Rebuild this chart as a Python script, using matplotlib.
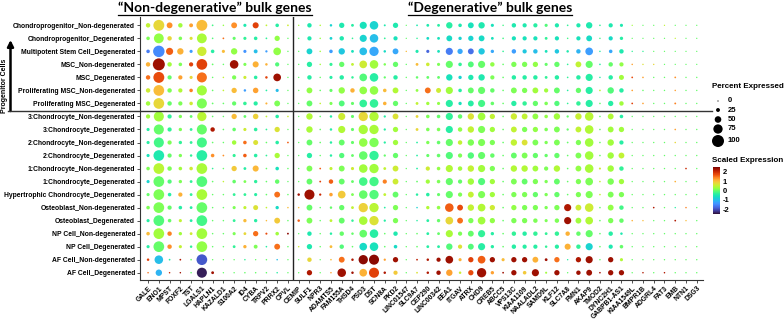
import numpy as np
import matplotlib
matplotlib.use("Agg")
import matplotlib.pyplot as plt
from matplotlib.lines import Line2D
from matplotlib.colors import ListedColormap

plt.rcParams['font.family'] = ['Liberation Sans', 'DejaVu Sans']
plt.rcParams['axes.unicode_minus'] = False

cell_types = [
    "Chondroprogenitor_Non-degenerated", "Chondroprogenitor_Degenerated",
    "Multipotent Stem Cell_Degenerated", "MSC_Non-degenerated", "MSC_Degenerated",
    "Proliferating MSC_Non-degenerated", "Proliferating MSC_Degenerated",
    "3:Chondrocyte_Non-degenerated", "3:Chondrocyte_Degenerated",
    "2:Chondrocyte_Non-degenerated", "2:Chondrocyte_Degenerated",
    "1:Chondrocyte_Non-degenerated", "1:Chondrocyte_Degenerated",
    "Hypertrophic Chondrocyte_Degenerated", "Osteoblast_Non-degenerated",
    "Osteoblast_Degenerated", "NP Cell_Non-degenerated", "NP Cell_Degenerated",
    "AF Cell_Non-degenerated", "AF Cell_Degenerated",
]

genes_nondeg = ["GALE", "ENO1", "MPST", "FOXF2", "TST", "LGALS1", "HAPLN1", "KAZALD1",
                "S100A2", "ID4", "CYBA", "TRPV2", "PRRX2", "CPVL"]
genes_deg = ["CEMIP", "SULF1", "NPR3", "ADAMTS5", "FAM155A", "THSD4", "PSD3", "DST",
             "SCN8A", "PKD2", "LINC01547", "SLC9A7", "CEP290", "LINC00342", "EEA1",
             "ITGAV", "ATRX", "CHD9", "CREB5", "ABCC5", "VPS13C", "KIAA1109",
             "NAALADL2", "SAMD9L", "KLF12", "SLC7A8", "FMN1", "AKAP9", "TMOD2",
             "DYNC2H1", "GABPB1-AS1", "KIAA1549L", "BMPR1B", "ADGRL4", "FAT3", "EMB",
             "NTN1", "DSG3"]

# percent expressed, "non-degenerative" genes
pct_nondeg = [
    [30, 90, 43, 30, 25, 90, 5, 3, 43, 18, 45, 5, 22, 5],
    [22, 80, 30, 22, 18, 80, 4, 5, 18, 18, 22, 5, 38, 2],
    [22, 95, 55, 48, 18, 75, 22, 18, 48, 18, 25, 10, 60, 2],
    [30, 100, 30, 22, 28, 88, 5, 3, 68, 18, 45, 12, 28, 2],
    [30, 90, 28, 28, 18, 82, 3, 3, 28, 18, 22, 12, 60, 2],
    [30, 88, 30, 28, 22, 82, 4, 4, 38, 12, 40, 5, 18, 2],
    [30, 88, 30, 28, 22, 82, 5, 4, 28, 22, 28, 8, 43, 2],
    [28, 82, 28, 20, 15, 75, 4, 3, 38, 15, 40, 5, 22, 4],
    [18, 82, 28, 20, 15, 82, 30, 4, 22, 18, 22, 5, 38, 2],
    [18, 82, 28, 20, 15, 82, 4, 3, 30, 22, 35, 4, 22, 5],
    [18, 88, 28, 20, 12, 88, 22, 5, 18, 22, 22, 5, 38, 2],
    [22, 88, 30, 22, 22, 88, 4, 3, 38, 15, 45, 4, 22, 3],
    [18, 88, 28, 20, 15, 88, 4, 3, 22, 15, 20, 4, 30, 2],
    [18, 88, 22, 28, 15, 88, 3, 3, 15, 15, 18, 4, 43, 3],
    [22, 88, 28, 22, 15, 88, 3, 3, 18, 18, 35, 4, 20, 3],
    [18, 88, 22, 18, 15, 88, 3, 3, 15, 20, 20, 3, 43, 3],
    [22, 88, 30, 20, 15, 88, 3, 3, 18, 15, 38, 8, 22, 6],
    [18, 88, 30, 18, 12, 88, 3, 3, 15, 20, 25, 4, 43, 3],
    [12, 68, 5, 5, 4, 88, 2, 2, 2, 3, 2, 3, 3, 2],
    [3, 48, 3, 3, 3, 82, 15, 2, 2, 3, 3, 3, 3, 2],
]

# scaled expression, "non-degenerative" genes
expr_nondeg = [
    [0.5, 0.8, 1.3, 0.3, 1.2, 1.0, -0.2, 0.2, 1.3, -0.5, 1.8, 0.5, -0.4, 0.6],
    [0.1, 0.2, 0.8, 0.1, 0.7, 0.35, -0.1, 1.5, 0.0, -0.3, -0.4, -0.3, 0.2, 0.0],
    [-1.6, -1.5, 1.6, 1.1, -1.3, 0.6, -0.4, 1.0, 0.2, -1.4, -1.0, -1.3, 0.2, 0.0],
    [1.1, 2.3, 0.3, 0.1, 1.8, 1.8, 0.0, 0.0, 2.3, 0.1, 1.1, 1.1, -0.1, 0.0],
    [1.5, 1.7, 0.0, 1.2, 0.8, 1.5, 0.0, 0.5, 0.1, 0.6, -0.4, 1.8, 2.3, 0.0],
    [0.6, 1.0, 0.1, 0.4, 1.4, 0.3, 0.0, 0.5, 1.0, -1.3, 1.2, -0.4, -1.0, 0.0],
    [0.3, 0.8, 0.0, 0.1, 0.6, 0.1, 0.0, 0.0, 0.0, -0.3, -0.4, 1.1, 0.1, 0.0],
    [0.3, 0.3, -0.3, 0.1, 0.0, 0.45, 0.0, 0.0, 1.0, 0.0, 0.85, 0.5, -0.4, 0.6],
    [-0.4, 0.0, -0.3, 0.1, -0.3, 0.0, 2.2, 0.0, 0.0, 0.6, -0.35, -0.3, 0.7, 0.0],
    [-0.4, -0.2, 0.1, -0.3, -0.3, -0.2, 0.0, 0.0, 0.3, 1.5, 0.7, 0.0, -0.4, 1.6],
    [-0.6, -0.5, 0.0, 0.1, -0.3, -0.4, 1.3, 1.3, -0.3, 1.6, -0.4, -0.3, 0.35, 0.0],
    [0.1, 0.45, 0.1, 0.3, 0.6, 0.35, -0.3, 0.0, 0.9, -0.4, 1.05, 0.0, -0.6, 0.0],
    [-0.8, 0.0, -0.1, 0.1, -0.3, -0.1, 0.0, 0.5, 0.0, 0.1, -0.35, 0.0, 0.0, 0.0],
    [0.0, 0.1, -0.4, 1.1, -0.3, 0.35, 0.0, 0.0, -0.3, -0.3, -0.4, 0.0, 1.5, 0.0],
    [0.1, 0.1, 0.0, -0.4, -0.4, 0.0, 0.0, 0.0, 0.1, 0.5, 0.7, 0.5, -0.7, 1.0],
    [-0.4, -0.1, 0.0, 0.5, -0.4, -0.2, 0.0, 0.0, -0.3, 1.0, -0.4, 1.0, 0.9, 0.0],
    [1.0, 0.3, 1.4, 0.3, 0.6, 0.3, 0.0, 0.0, 0.1, 0.8, 1.5, 1.7, 0.3, 2.4],
    [-0.4, 0.0, 1.3, 0.5, -0.3, 0.2, 0.0, 0.0, -0.3, 1.1, 0.1, -0.4, 1.5, 0.0],
    [1.8, -1.0, -0.4, 2.2, 0.0, -1.9, 0.0, 0.0, 0.0, -0.3, 0.0, 0.0, -1.0, 0.0],
    [1.5, -1.1, 2.0, 2.3, 0.0, -2.4, 2.3, 0.0, 0.0, 0.0, 0.0, 0.0, -0.4, 0.0],
]

# percent expressed, "degenerative" genes
pct_deg = [
    [2, 30, 3, 12, 38, 15, 55, 68, 7, 38, 1, 5, 15, 15, 48, 22, 43, 48, 18, 3, 30, 28, 28, 18, 28, 4, 28, 48, 4, 28, 18, 1, 1, 1, 1, 1, 1, 1],
    [2, 28, 3, 15, 30, 4, 55, 68, 5, 28, 1, 3, 15, 15, 43, 20, 38, 43, 15, 4, 28, 28, 28, 15, 28, 3, 28, 43, 3, 28, 20, 1, 1, 1, 1, 1, 1, 1],
    [2, 43, 3, 22, 48, 15, 60, 75, 12, 43, 2, 18, 18, 15, 55, 38, 43, 48, 20, 4, 30, 28, 30, 15, 30, 12, 30, 60, 3, 22, 30, 2, 2, 1, 1, 1, 1, 1],
    [2, 38, 3, 18, 38, 15, 60, 68, 12, 38, 2, 15, 22, 18, 55, 22, 43, 55, 30, 4, 38, 38, 38, 18, 38, 4, 43, 55, 4, 30, 28, 3, 2, 2, 1, 1, 1, 1],
    [2, 30, 3, 18, 30, 12, 60, 68, 10, 30, 2, 12, 15, 15, 48, 20, 38, 48, 28, 4, 30, 30, 30, 15, 30, 4, 30, 55, 3, 30, 35, 5, 4, 2, 2, 5, 2, 2],
    [2, 43, 4, 18, 48, 30, 60, 68, 22, 43, 2, 15, 43, 35, 55, 22, 43, 55, 30, 4, 43, 38, 43, 28, 43, 4, 38, 55, 5, 48, 30, 4, 3, 2, 2, 3, 2, 2],
    [2, 43, 4, 18, 43, 18, 60, 68, 22, 38, 2, 15, 20, 18, 55, 20, 43, 55, 22, 4, 38, 30, 38, 22, 38, 4, 30, 55, 4, 38, 30, 5, 4, 2, 2, 6, 2, 2],
    [2, 48, 4, 12, 55, 18, 75, 75, 10, 43, 2, 15, 22, 22, 55, 30, 48, 60, 38, 4, 48, 43, 43, 22, 48, 10, 48, 68, 4, 43, 22, 2, 2, 2, 2, 2, 2, 2],
    [2, 48, 4, 12, 55, 18, 75, 75, 10, 38, 2, 15, 22, 22, 55, 30, 48, 55, 38, 4, 43, 38, 38, 22, 43, 10, 43, 68, 4, 43, 38, 2, 2, 2, 2, 4, 2, 2],
    [2, 43, 4, 12, 43, 18, 68, 75, 10, 38, 2, 5, 20, 22, 55, 30, 48, 55, 38, 4, 48, 43, 43, 20, 43, 5, 38, 68, 4, 48, 28, 2, 2, 2, 2, 3, 2, 2],
    [2, 38, 3, 12, 38, 15, 68, 75, 10, 38, 2, 5, 18, 22, 55, 28, 48, 55, 30, 4, 43, 43, 38, 20, 38, 4, 43, 68, 4, 48, 43, 2, 2, 2, 2, 2, 2, 2],
    [2, 43, 5, 18, 43, 18, 68, 75, 15, 43, 2, 5, 28, 22, 55, 30, 48, 55, 38, 4, 48, 48, 43, 28, 48, 4, 43, 68, 8, 48, 30, 2, 2, 2, 2, 2, 4, 2],
    [2, 43, 6, 30, 43, 15, 68, 75, 28, 43, 2, 5, 28, 22, 55, 28, 48, 55, 38, 4, 43, 43, 38, 20, 43, 4, 38, 60, 4, 48, 38, 2, 2, 2, 2, 4, 2, 2],
    [12, 82, 10, 22, 60, 15, 68, 75, 15, 43, 2, 12, 22, 18, 55, 28, 43, 55, 38, 4, 38, 38, 38, 20, 38, 4, 38, 55, 4, 43, 38, 2, 2, 2, 2, 2, 2, 2],
    [3, 43, 3, 12, 38, 15, 75, 75, 5, 38, 2, 3, 20, 22, 68, 43, 48, 60, 38, 4, 38, 38, 38, 20, 38, 55, 43, 68, 4, 43, 30, 2, 2, 4, 2, 2, 3, 2],
    [12, 43, 3, 15, 43, 12, 68, 75, 10, 38, 2, 3, 15, 20, 60, 43, 38, 60, 38, 4, 38, 38, 30, 18, 30, 55, 43, 60, 4, 38, 30, 3, 2, 2, 2, 5, 2, 2],
    [2, 30, 3, 12, 30, 12, 60, 68, 4, 30, 2, 4, 15, 15, 55, 28, 43, 55, 20, 4, 30, 30, 30, 15, 30, 30, 30, 55, 4, 30, 12, 2, 2, 2, 2, 2, 2, 2],
    [3, 38, 3, 15, 30, 4, 60, 68, 4, 22, 2, 4, 15, 15, 48, 28, 43, 55, 20, 4, 30, 28, 28, 12, 28, 45, 30, 55, 4, 28, 22, 2, 2, 2, 2, 2, 2, 2],
    [2, 30, 2, 4, 43, 12, 75, 82, 10, 38, 2, 5, 12, 28, 60, 18, 38, 60, 38, 18, 38, 38, 43, 15, 38, 2, 38, 55, 3, 38, 18, 2, 2, 2, 2, 2, 2, 2],
    [2, 38, 2, 3, 68, 12, 60, 82, 12, 28, 2, 5, 12, 30, 48, 12, 38, 75, 20, 5, 38, 22, 55, 8, 38, 2, 30, 43, 4, 38, 38, 2, 3, 2, 3, 2, 2, 2],
]

# scaled expression, "degenerative" genes
expr_deg = [
    [0.3, -0.5, 0.4, -0.8, -0.5, -0.4, -0.6, -0.8, -0.5, -0.5, 0, -0.5, -0.5, -0.4, -0.4, -0.5, -0.6, -0.5, -0.6, -0.2, -0.5, -0.5, -0.4, -0.1, -0.5, -0.3, -0.5, -0.5, -0.3, -0.5, -0.5, 0.3, 0, 0, 0.5, 0, 0, 0],
    [0, -0.5, 0.2, -0.8, -0.5, -0.3, -0.8, -1.0, -0.3, -0.6, 0, -0.3, -0.7, -0.6, -0.7, -0.8, -0.8, -0.7, -0.6, -0.2, -0.6, -0.6, -0.6, -0.3, -0.6, -0.2, -0.6, -0.7, -0.2, -0.7, -0.4, 0, 0, 0, 0, 0.5, 0, 0],
    [0, -0.8, 0.3, -1.3, -0.9, -0.6, -1.0, -1.2, -0.7, -1.2, 1.0, -0.5, -1.8, -0.6, -1.6, -1.2, -1.7, -0.9, -1.2, -0.3, -1.3, -0.9, -1.0, -0.6, -0.9, -0.5, -1.1, -1.3, -0.4, -1.2, -0.5, -0.3, -0.3, 0, 0, 0, 0, 0],
    [0, -0.4, 0.3, -0.3, 0.0, 0.5, 0.6, 0.3, 0.1, 0.0, 0, 1.0, 0.6, 0.1, 0.0, -0.3, -0.1, 0.0, 0.2, 0.0, 0.1, 0.1, 0.2, 0.0, 0.0, -0.3, 0.5, 0.0, -0.4, 0.0, 0.2, 1.2, 0.7, 0.8, 0, 0, 0, 0],
    [0, -0.4, 0, -0.4, -0.4, -0.3, -0.1, -0.4, 0.0, -0.4, 0, 0.0, 0.0, 0.0, -0.6, -0.8, -0.5, -0.5, 0.1, 0.0, -0.4, -0.4, -0.4, -0.3, -0.4, -0.3, -0.4, -0.4, -0.4, -0.4, 0.3, 1.7, 1.2, 0, 0, 1.3, 0, 0],
    [0, 0.2, 0, 0.0, 0.2, 1.1, 0.2, 0.2, 1.0, 0.4, 0, 0.2, 1.5, 0.6, 0.3, -0.4, 0.0, 0.0, 0.0, 0.0, 0.1, 0.1, 0.3, 0.3, 0.0, -0.4, 0.0, -0.4, 0.5, -0.1, -0.4, 1.2, 0, 0, 0, 1.2, 0, 0],
    [0, 0.0, 0.5, 0.1, -0.1, 0.0, -0.3, -0.3, 1.1, 0.0, 0, 0.5, 0.3, 0.2, -0.4, -0.6, -0.4, -0.2, 0.0, 0.0, -0.4, -0.3, 0.0, 0.1, -0.1, -0.3, -0.3, -0.4, 0, -0.4, 0.3, 1.8, 1.2, 0, 0, 1.4, 0, 0],
    [0, 0.4, 0, -0.4, 0.6, 0.0, 0.8, 0.4, -0.4, 0.7, 0, 0.8, 0.1, 0.0, -0.3, 0.0, 0.7, 0.3, 0.5, 0.0, 0.6, 0.5, 0.2, 0.2, 0.3, 0.0, 0.55, 0.45, 0, 0.4, -0.4, 0, 0, 0, 0, 0, 0, 0],
    [0, 0.35, 0, -0.4, 0.4, 0.0, 0.35, 0.35, -0.4, 0.3, 0, 0.8, 0.1, 0.1, -0.4, 0.2, 0.5, 0.1, 0.3, 0.0, 0.5, 0.1, 0.2, 0.1, 0.1, 0.0, 0.5, 0.4, 0, 0.3, 0.3, 0, 0, 0, 0, 1.2, 0, 0],
    [0, 0.0, 0, -0.4, 0.0, 0.0, 0.2, 0.1, -0.4, 0.3, 0, -0.4, 0.1, 0.0, 0.0, 0.5, 0.1, 0.1, 0.1, 0.0, 0.5, 0.7, 0.1, 0.1, 0.1, 0.0, 0.1, 0.3, 0, 0.3, -0.4, 0, 0, 0, 0, 0.8, 0, 0],
    [0, -0.4, 0, -0.4, -0.1, 0.0, 0.0, -0.3, 0.0, 0.0, 0, -0.4, 0.0, 0.0, -0.1, 0.1, -0.1, 0.0, 0.0, 0.0, 0.0, 0.1, 0.0, 0.0, 0.0, 0.0, 0.1, 0.3, 0, 0.3, 0.5, 0, 0, 0, 0, 0, 0, 0],
    [0, 0.1, 1.6, 0.5, 0.1, 0.6, 0.3, 0.3, 0.5, 0.6, 0, -0.4, 0.6, 0.2, 0.4, 0.3, 0.5, 0.3, 0.1, 0.0, 0.4, 0.4, 0.3, 0.1, 0.4, 0.0, 0.2, 0.35, 0.6, 0.3, -0.3, 0, 0, 0, 0, 0, 2.0, 0],
    [0, 0.0, 1.8, 1.6, 0.0, 0.0, -0.2, -0.2, 1.4, 0.6, 0, 0.0, 0.3, 0.1, 0.0, 0.0, 0.3, -0.1, 0.3, 0.0, 0.1, 0.0, 0.1, 0.1, 0.0, 0.0, 0.1, 0.1, 0.5, 0.1, 0.3, 0, 0, 0, 0, 1.1, 0, 0],
    [2.3, 2.3, 2.0, 1.2, 0.9, 0.1, 0.0, -0.1, 0.5, 0.0, 0, -0.4, -0.4, 0.0, 0.0, 0.1, 0.5, 0.1, 0.3, 0.0, 0.1, 0.1, 0.0, 0.1, 0.0, 0.0, 0.1, 0.1, 0.5, 0.1, 0.1, 0, 0, 0, 0, 0, 0, 0],
    [1.0, 0.0, 0, 0.0, 0.0, 0.5, 0.85, 0.45, -0.4, 0.1, 0, -0.8, 0.4, 0.2, 1.6, 1.7, 0.5, 0.4, 0.6, 0.0, 0.2, 0.1, 0.1, 0.1, 0.1, 2.2, 0.6, 0.6, 0, 0.2, -0.2, 0, 0, 2.2, 0, -0.4, 1.4, 0],
    [1.6, 0.1, 0, 0.5, 0.0, -0.3, 0.35, 0.7, -0.4, 0.1, 0, -0.4, -0.4, 0.0, 0.8, 1.5, 0.1, 0.3, 0.2, 0.0, 0.1, 0.1, 0.1, 0.1, 0.1, 2.3, 0.3, 0.4, 0, 0.1, 0.0, 1.1, 1.0, 0, 0, 2.2, 1.0, 0],
    [0, -0.5, 0, -0.4, 0.0, 0.0, 0.0, -0.4, 0, -0.5, 0, 0, -0.4, 0.0, 0.35, 0.1, 0.0, -0.3, -0.4, 0.0, -0.3, -0.4, -0.3, -0.3, -0.3, 1.1, 0.0, 0.0, 0, -0.4, -0.5, 0, 0, 0, 0, 0, 0, 0],
    [0.6, -0.5, 0, 1.0, -0.1, 0.0, -0.7, -0.6, 0, -0.7, 0, 0, -0.4, -0.4, -0.1, 0.7, -0.1, -0.4, -0.4, 0.0, -0.4, -0.4, -0.4, -0.3, -0.4, 1.1, -0.3, -0.8, 0, -0.5, 0.0, 0, 0, 0, 0, 0, 0, 0],
    [0, 0.8, 0, 1.0, 1.5, 2.2, 2.4, 2.4, 1.2, 2.3, 0, 2.1, 2.2, 2.3, 2.3, 1.1, 1.8, 1.6, 2.3, 1.0, 2.3, 2.3, 1.1, 2.3, 1.5, -0.4, 2.2, 2.3, 0, 2.3, 0.4, 0, 0, 0, 0, 0, 0, 0],
    [0, 2.2, 0, 1.2, 2.3, 2.3, 1.1, 1.8, 2.2, 0.9, 0, 0.7, 2.2, 2.3, 1.2, 0.6, 1.7, 2.3, 1.2, 2.3, 2.3, 0.9, 2.3, 0.3, 2.3, 0, 2.3, 2.3, 2.3, 2.3, 2.3, 0, 2.2, 0, 2.2, 0, 0, 0],
]

legend_pct = [0, 25, 50, 75, 100]
cbar_ticks = [-2, -1, 0, 1, 2]

W, H = 784, 320
VMIN, VMAX = -2.5, 2.5
genes = genes_nondeg + genes_deg
pct = np.hstack([np.array(pct_nondeg, float), np.array(pct_deg, float)])
expr = np.hstack([np.array(expr_nondeg, float), np.array(expr_deg, float)])

# turbo, resampled so that 0 sits on the green part of the ramp
e = np.linspace(VMIN, VMAX, 256)
frac = np.interp(e, [VMIN, 0, VMAX], [0.0, 0.43, 1.0])
cmap = ListedColormap(plt.get_cmap('turbo')(frac))


def dot_size(p):
    # diameter in px grows linearly with percent, converted to points^2
    d = 1.2 + 0.108 * np.asarray(p, float)
    return (d * 72.0 / 100) ** 2


fig = plt.figure(figsize=(W / 100, H / 100), dpi=100)
ax = fig.add_axes([140 / W, 40 / H, 563 / W, 263 / H])

rows, cols = np.meshgrid(np.arange(len(cell_types)), np.arange(len(genes)), indexing='ij')
sc = ax.scatter(cols.ravel(), rows.ravel(), s=dot_size(pct.ravel()), c=expr.ravel(),
                cmap=cmap, vmin=VMIN, vmax=VMAX, edgecolors='none', zorder=3)

ax.set_xlim(-0.75, len(genes) - 0.42)
ax.set_ylim(len(cell_types) - 0.44, -0.64)
ax.set_xticks(range(len(genes)))
ax.set_xticklabels(genes, rotation=45, ha='right', rotation_mode='anchor',
                   fontsize=4.9, fontweight='bold')
ax.set_yticks(range(len(cell_types)))
ax.set_yticklabels(cell_types, fontsize=4.9, fontweight='bold')
ax.tick_params(length=2, width=0.6, pad=1.5, color='#333333')
for side in ['top', 'right']:
    ax.spines[side].set_visible(False)
for side in ['left', 'bottom']:
    ax.spines[side].set_color('#333333')
    ax.spines[side].set_linewidth(0.8)

# group separators
ax.axvline(len(genes_nondeg) - 0.5, color='#222222', lw=1.0, zorder=2)
fig.add_artist(Line2D([8 / W, 712 / W], [1 - 110.5 / H] * 2, color='#333333', lw=1.0))

# progenitor arrow
ax.annotate('', xy=(10.5, H - 40), xytext=(10.5, H - 111), xycoords='figure pixels',
            textcoords='figure pixels',
            arrowprops=dict(arrowstyle='-|>', color='black', lw=1.8, mutation_scale=9,
                            shrinkA=0, shrinkB=0))
fig.text(4.5 / W, 1 - 86 / H, 'Progenitor Cells', rotation=90, ha='center', va='center',
         fontsize=5.0, fontweight='bold')

# titles
titles = [
    fig.text(215 / W, 1 - 8 / H, '\u201cNon-degenerative\u201d bulk genes', ha='center',
             va='center', fontsize=10, fontweight='bold', family=['Lato', 'DejaVu Sans']),
    fig.text(490 / W, 1 - 8 / H, '\u201cDegenerative\u201d bulk genes', ha='center',
             va='center', fontsize=10, fontweight='bold', family=['Lato', 'DejaVu Sans']),
]

# size legend
fig.text(712 / W, 1 - 87 / H, 'Percent Expressed', fontsize=5.8, fontweight='bold',
         va='center')
lax = fig.add_axes([0, 0, 1, 1], facecolor='none')
lax.set_xlim(0, W)
lax.set_ylim(H, 0)
lax.axis('off')
leg_y = [101, 110, 119.5, 129, 141]
lax.scatter([718] * len(legend_pct), leg_y, s=dot_size(legend_pct), color='black',
            edgecolors='none')
for p, y in zip(legend_pct, leg_y):
    lax.text(728, y, str(p), fontsize=5.5, fontweight='bold', va='center')

# colour legend
fig.text(712 / W, 1 - 160 / H, 'Scaled Expression', fontsize=5.8, fontweight='bold',
         va='center')
cax = fig.add_axes([713 / W, 1 - 214 / H, 7 / W, 47 / H])
cb = fig.colorbar(sc, cax=cax, ticks=cbar_ticks)
cb.outline.set_visible(False)
cb.ax.tick_params(length=0, pad=2, labelsize=5.5)
for t in cb.ax.get_yticklabels():
    t.set_fontweight('bold')

# underline titles
fig.canvas.draw()
r = fig.canvas.get_renderer()
for t in titles:
    bb = t.get_window_extent(r).transformed(fig.transFigure.inverted())
    fig.add_artist(Line2D([bb.x0, bb.x1], [1 - 15 / H] * 2, color='black', lw=0.9))

fig.savefig('out.png', dpi=100)
